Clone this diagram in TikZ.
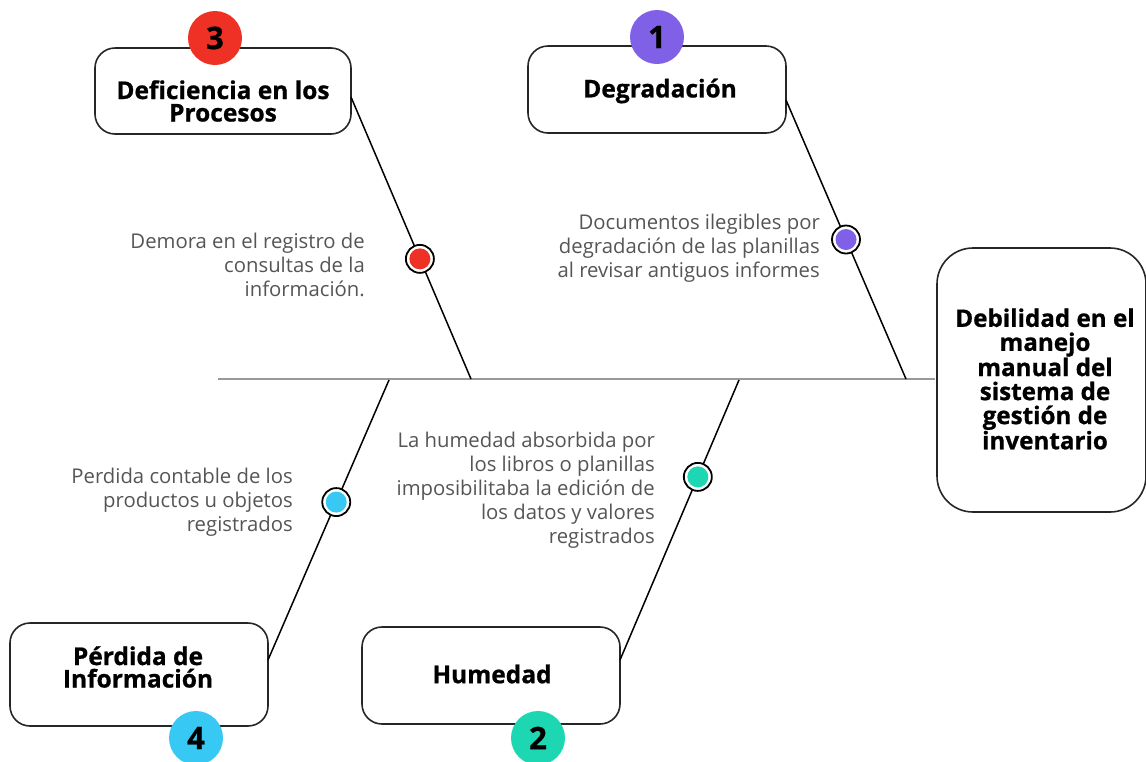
\documentclass[tikz,border=0pt]{standalone}
\usepackage{fontspec}
\setmainfont{Open Sans}
\newfontfamily\heavy[BoldFeatures={FakeBold=0.8}]{Open Sans}
\usetikzlibrary{calc}
\definecolor{cred}{HTML}{EE3124}
\definecolor{cpur}{HTML}{8160E8}
\definecolor{ccya}{HTML}{38C8F4}
\definecolor{cgrn}{HTML}{1DD6B2}
\definecolor{txtg}{HTML}{555555}
\begin{document}
\begin{tikzpicture}[x=1pt,y=-1pt,
  catbox/.style={draw=black!85,line width=1.6pt,rounded corners=20pt,fill=white,inner sep=0pt},
  cattext/.style={font=\fontsize{24.5}{22.5}\selectfont\heavy\bfseries,align=center,inner sep=0pt},
  numc/.style={circle,minimum size=54pt,inner sep=0pt,font=\fontsize{31}{31}\selectfont\heavy\bfseries},
  desc/.style={font=\fontsize{20.3}{24}\selectfont,text=txtg,align=right,anchor=east,inner sep=0pt},
  bone/.style={line width=1.5pt,black},
  dotc/.style={circle,draw=black,line width=1.8pt,minimum size=28pt,inner sep=0pt,fill=white,path picture={\fill[#1] (path picture bounding box.center) circle (10.5pt);}}
]
\useasboundingbox (0,0) rectangle (1146,761);
% spine
\coordinate (sp0) at (218,379);
\coordinate (sp1) at (935,379);
\draw[line width=1.8pt,black!40] (sp0) -- (sp1);
% boxes
\node[catbox,minimum width=256pt,minimum height=86pt] (b3) at (223,91) {};
\node[catbox,minimum width=258pt,minimum height=87pt] (b1) at (657,89.5) {};
\node[catbox,minimum width=258pt,minimum height=103pt] (b4) at (139,674.5) {};
\node[catbox,minimum width=258pt,minimum height=97pt] (b2) at (491,675.5) {};
\node[catbox,rounded corners=36pt,minimum width=209pt,minimum height=264pt] (b0) at (1041.5,380) {};
% box texts
\node[cattext] (t3) at (223,101) {Deficiencia en los\\Procesos};
\node[cattext] (t1) at (660,91) {Degradación};
\node[cattext] (t4) at (138,667) {Pérdida de\\Información};
\node[cattext] (t2) at (492,674) {Humedad};
\node[cattext,font=\fontsize{24.2}{24}\selectfont\heavy\bfseries] (t0) at (1045,379) {Debilidad en el\\manejo\\manual del\\sistema de\\gestión de\\inventario};
% bone anchors
\coordinate (e3) at (471,379);
\coordinate (e1) at (906,379);
\coordinate (e4) at (389,380);
\coordinate (e2) at (739,380);
\coordinate (s3) at (351,97);
\coordinate (s1) at (786,100);
\coordinate (s4) at (268,660);
\coordinate (s2) at (620,660);
\draw[bone] (s3) -- (e3);
\draw[bone] (s1) -- (e1);
\draw[bone] (s4) -- (e4);
\draw[bone] (s2) -- (e2);
% dots
\node[dotc=cred] (d3) at ($(s3)!0.574!(e3)$) {};
\node[dotc=cpur] (d1) at ($(s1)!0.50!(e1)$) {};
\node[dotc=ccya] (d4) at ($(s4)!0.564!(e4)$) {};
\node[dotc=cgrn] (d2) at ($(s2)!0.654!(e2)$) {};
% number circles
\node[numc,fill=cred] (n3) at (215,38) {3};
\node[numc,fill=cpur] (n1) at (657,37) {1};
\node[numc,fill=ccya] (n4) at (196,738) {4};
\node[numc,fill=cgrn] (n2) at (538,738) {2};
% descriptions
\node[desc] (x3) at (365,265) {Demora en el registro de\\consultas de la\\información.};
\node[desc] (x1) at (820,248) {Documentos ilegibles por\\degradación de las planillas\\al revisar antiguos informes};
\node[desc] (x4) at (293,502) {Perdida contable de los\\productos u objetos\\registrados};
\node[desc] (x2) at (655,490) {La humedad absorbida por\\los libros o planillas\ \\imposibilitaba la edición de\\los datos y valores\\registrados};
\end{tikzpicture}
\end{document}
